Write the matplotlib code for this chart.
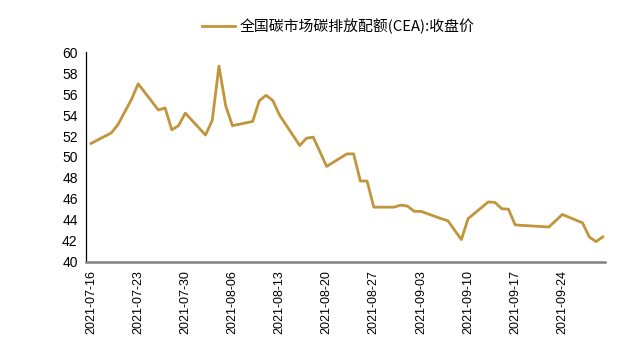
import matplotlib
matplotlib.use("Agg")
import matplotlib.pyplot as plt
import matplotlib.dates as mdates
import pandas as pd

dates = [
    "2021-07-16", "2021-07-19", "2021-07-20", "2021-07-21", "2021-07-22", "2021-07-23",
    "2021-07-26", "2021-07-27", "2021-07-28", "2021-07-29", "2021-07-30",
    "2021-08-02", "2021-08-03", "2021-08-04", "2021-08-05", "2021-08-06",
    "2021-08-09", "2021-08-10", "2021-08-11", "2021-08-12", "2021-08-13",
    "2021-08-16", "2021-08-17", "2021-08-18", "2021-08-19", "2021-08-20",
    "2021-08-23", "2021-08-24", "2021-08-25", "2021-08-26", "2021-08-27",
    "2021-08-30", "2021-08-31", "2021-09-01", "2021-09-02", "2021-09-03",
    "2021-09-06", "2021-09-07", "2021-09-08", "2021-09-09", "2021-09-10",
    "2021-09-13", "2021-09-14", "2021-09-15", "2021-09-16", "2021-09-17",
    "2021-09-22", "2021-09-23", "2021-09-24",
    "2021-09-27", "2021-09-28", "2021-09-29", "2021-09-30",
]
close_price = [
    51.3, 52.3, 53.1, 54.3, 55.5, 57.0,
    54.5, 54.7, 52.6, 53.0, 54.2,
    52.1, 53.5, 58.7, 54.9, 53.0,
    53.4, 55.4, 55.9, 55.4, 54.0,
    51.1, 51.8, 51.9, 50.5, 49.1,
    50.3, 50.3, 47.7, 47.7, 45.2,
    45.2, 45.4, 45.3, 44.8, 44.8,
    44.1, 43.9, 43.0, 42.1, 44.1,
    45.7, 45.65, 45.05, 45.0, 43.5,
    43.3, 43.9, 44.5,
    43.7, 42.35, 41.9, 42.35,
]
series_label = "全国碳市场碳排放配额(CEA):收盘价"
y_ticks = [40, 42, 44, 46, 48, 50, 52, 54, 56, 58, 60]

x = pd.to_datetime(dates)

fig = plt.figure(figsize=(6.29, 3.53), dpi=100)
ax = fig.add_axes([0.1367, 0.2592, 0.8251, 0.5921])
line, = ax.plot(x, close_price, color="#C1953C", linewidth=2.0, label=series_label)

ax.set_ylim(40, 60)
ax.set_yticks(y_ticks)
start = pd.Timestamp("2021-07-16")
ax.set_xlim(start - pd.Timedelta(hours=18), pd.Timestamp("2021-09-30") + pd.Timedelta(hours=8))
tick_dates = pd.date_range("2021-07-16", "2021-09-30", freq="7D")
ax.set_xticks(tick_dates)
ax.xaxis.set_major_formatter(mdates.DateFormatter("%Y-%m-%d"))

for lab in ax.get_xticklabels():
    lab.set_rotation(90)
    lab.set_fontsize(9)
    lab.set_family(["Liberation Sans", "DejaVu Sans"])
for lab in ax.get_yticklabels():
    lab.set_fontsize(10)
    lab.set_family(["Liberation Sans", "DejaVu Sans"])

ax.tick_params(axis="both", length=0, pad=6, colors="#000000")
ax.spines["top"].set_visible(False)
ax.spines["right"].set_visible(False)
ax.spines["left"].set_color("#000000")
ax.spines["left"].set_linewidth(0.9)
ax.spines["bottom"].set_color("#808080")
ax.spines["bottom"].set_linewidth(1.8)

fig.legend(handles=[line], labels=[series_label], loc="center",
           bbox_to_anchor=(0.538, 0.924), frameon=False, handlelength=2.2,
           handletextpad=0.35,
           prop={"family": ["Noto Sans CJK SC", "DejaVu Sans"], "size": 10.7})

fig.savefig("out.png", dpi=100)
